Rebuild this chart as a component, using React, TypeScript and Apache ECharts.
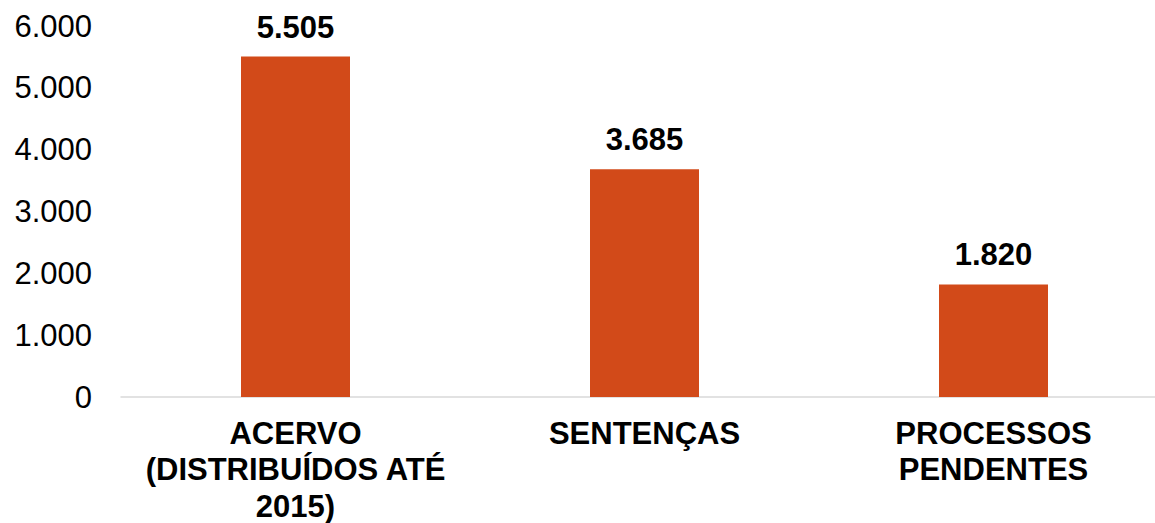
import React, { useEffect, useRef } from "react";
import * as echarts from "echarts";

const categories = ["ACERVO\n(DISTRIBUÍDOS ATÉ\n2015)", "SENTENÇAS", "PROCESSOS\nPENDENTES"];
const values = [5505, 3685, 1820];
const yMin = 0;
const yMax = 6000;
const yStep = 1000;

const fmt = (v: number) => String(v).replace(/\B(?=(\d{3})+(?!\d))/g, ".");

export default function App() {
  const ref = useRef<HTMLDivElement>(null);
  useEffect(() => {
    document.body.style.margin = "0";
    const chart = echarts.init(ref.current!, null, { renderer: "svg" });
    const font = "'Liberation Sans', Arial, sans-serif";
    chart.setOption({
      animation: false,
      backgroundColor: "#ffffff",
      grid: { left: 121, right: -13, top: 26, bottom: 126, containLabel: false, outerBoundsMode: "none" },
      xAxis: {
        type: "category",
        data: categories,
        axisLine: { show: true, lineStyle: { color: "#D9D9D9", width: 1.5 } },
        axisTick: { show: false },
        axisLabel: {
          color: "#000",
          fontFamily: font,
          fontWeight: "bold",
          fontSize: 31,
          lineHeight: 36.5,
          margin: 18,
          interval: 0,
        },
      },
      yAxis: {
        type: "value",
        min: yMin,
        max: yMax,
        interval: yStep,
        axisLine: { show: false },
        axisTick: { show: false },
        splitLine: { show: false },
        axisLabel: {
          color: "#000",
          fontFamily: font,
          fontSize: 31,
          margin: 29,
          formatter: (v: number) => fmt(v),
        },
      },
      series: [
        {
          type: "bar",
          data: values,
          barWidth: 109,
          itemStyle: { color: "#D24A19" },
          label: {
            show: true,
            position: "top",
            distance: 14,
            color: "#000",
            fontFamily: font,
            fontWeight: "bold",
            fontSize: 31,
            formatter: (p: any) => fmt(p.value),
          },
        },
      ],
    });
    return () => chart.dispose();
  }, []);
  return <div ref={ref} style={{ width: 1155, height: 523 }} />;
}
